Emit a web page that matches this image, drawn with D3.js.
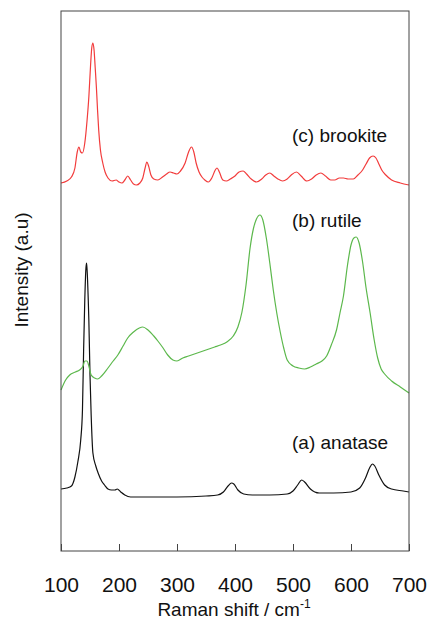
<!DOCTYPE html>
<html>
<head>
  <meta charset="utf-8">
  <title>Raman spectra of TiO2</title>
  <style>
    body { margin: 0; background: #fff; }
    text { font-family: "Liberation Sans", Arial, sans-serif; fill: #111; }
  </style>
</head>
<body>
  <script src="https://cdn.jsdelivr.net/npm/d3@7"></script>
  <script>
    // spectra: Raman shift (cm-1) and intensity (a.u., offset stacked)
    var anataseShift = [100,110,118,124,129,134,137,139,141,143,144,145,147,148,150,152,155,160,164,170,175,181,187,193,197,203,210,220,250,300,350,370,380,388,394,398,405,415,430,460,490,500,508,515,520,530,545,570,600,615,625,632,637,641,648,658,670,690,700];
    var anataseInt = [62,63,65,74,89,111,141,201,251,283,288,281,251,231,176,136,98,85,78,70,66,62,61,61,62,59,56,54,54,54,55,56,59,65,68,67,61,57,56,56,57,60,66,71,69,62,58,58,59,63,73,83,87,85,76,66,62,60,59];

    var rutileShift = [100,108,115,125,132,138,141,145,148,152,158,163,170,181,190,198,207,215,225,235,241,250,260,267,276,284,293,300,310,320,335,350,365,375,386,397,405,412,419,426,432,437,443,448,454,460,466,472,478,484,490,500,510,520,530,540,550,558,566,575,581,587,594,600,605,609,614,620,626,633,640,646,652,658,670,685,700];
    var rutileInt = [161,171,176,179,181,185,190,190,185,176,173,172,175,183,190,196,205,213,219,223,224,221,215,210,203,196,191,190,193,195,198,201,204,206,209,215,224,239,266,303,323,332,336,331,313,288,261,238,219,203,191,185,183,182,184,187,190,195,206,221,238,255,286,306,313,314,308,289,263,238,211,193,182,177,170,164,158];

    var brookiteShift = [100,110,118,124,128,131,134,137,141,145,148,151,153,155,157,159,161,163,165,168,172,176,181,188,195,200,205,210,215,220,225,230,236,241,245,248,251,255,260,267,275,282,288,294,300,306,314,320,325,329,333,338,343,348,354,360,366,369,373,379,385,392,400,407,414,420,428,437,446,453,460,467,474,482,490,497,506,514,524,532,540,548,556,565,572,580,587,595,604,612,620,626,632,638,643,648,653,660,670,685,700];
    var brookiteInt = [368,370,374,383,399,404,399,398,408,431,454,486,503,508,501,483,464,441,421,401,388,379,373,370,371,369,368,371,375,371,367,366,368,373,383,389,385,376,372,371,374,377,379,378,377,380,388,399,404,399,388,379,374,371,369,373,381,383,379,371,370,372,375,379,380,377,372,369,372,376,378,375,372,370,372,376,379,375,370,372,376,378,375,371,371,373,373,372,372,376,381,387,393,395,393,387,381,376,371,368,366];

    var xTicks = [100, 200, 300, 400, 500, 600, 700];
    var labels = ["(a) anatase", "(b) rutile", "(c) brookite"];
    var colors = ["#111111", "#5cb84c", "#f23c3c"];

    var W = 427, H = 621;
    var mLeft = 61, mRight = 409, mTop = 11, mBottom = 551;

    var svg = d3.select("body").append("svg")
      .attr("width", W).attr("height", H);

    var x = d3.scaleLinear().domain([100, 700]).range([mLeft, mRight]);
    var y = d3.scaleLinear().domain([0, 540]).range([mBottom, mTop]);

    // series
    var series = [
      { shift: anataseShift, val: anataseInt },
      { shift: rutileShift, val: rutileInt },
      { shift: brookiteShift, val: brookiteInt }
    ];

    var line = d3.line()
      .x(function(d) { return x(d[0]); })
      .y(function(d) { return y(d[1]); })
      .curve(d3.curveMonotoneX);

    series.forEach(function(s, i) {
      var pts = s.shift.map(function(v, k) { return [v, s.val[k]]; });
      svg.append("path")
        .datum(pts)
        .attr("fill", "none")
        .attr("stroke", colors[i])
        .attr("stroke-width", 1.2)
        .attr("d", line);
    });

    // x axis, ticks inside
    var xAxis = svg.append("g")
      .attr("transform", "translate(0," + mBottom + ")")
      .call(d3.axisBottom(x).tickValues(xTicks).tickSizeInner(-7).tickSizeOuter(0).tickPadding(26));
    xAxis.select(".domain").remove();
    xAxis.selectAll("line").attr("stroke", "#444");
    xAxis.selectAll("text")
      .style("font-family", "Liberation Sans, Arial, sans-serif")
      .style("font-size", "21px")
      .attr("fill", "#111");

    // frame
    svg.append("rect")
      .attr("x", mLeft).attr("y", mTop)
      .attr("width", mRight - mLeft).attr("height", mBottom - mTop)
      .attr("fill", "none")
      .attr("stroke", "#444")
      .attr("stroke-width", 1);

    // trace labels
    var labelY = [449, 227, 142];
    labels.forEach(function(t, i) {
      svg.append("text")
        .attr("x", 292).attr("y", labelY[i])
        .style("font-size", "19px")
        .text(t);
    });

    // axis titles
    var xt = svg.append("text")
      .attr("x", 234).attr("y", 616)
      .attr("text-anchor", "middle")
      .style("font-size", "19px");
    xt.append("tspan").text("Raman shift / cm");
    xt.append("tspan").attr("dy", -8).style("font-size", "12px").text("-1");

    svg.append("text")
      .attr("transform", "translate(28,270) rotate(-90)")
      .attr("text-anchor", "middle")
      .style("font-size", "19px")
      .text("Intensity (a.u)");
  </script>
</body>
</html>
